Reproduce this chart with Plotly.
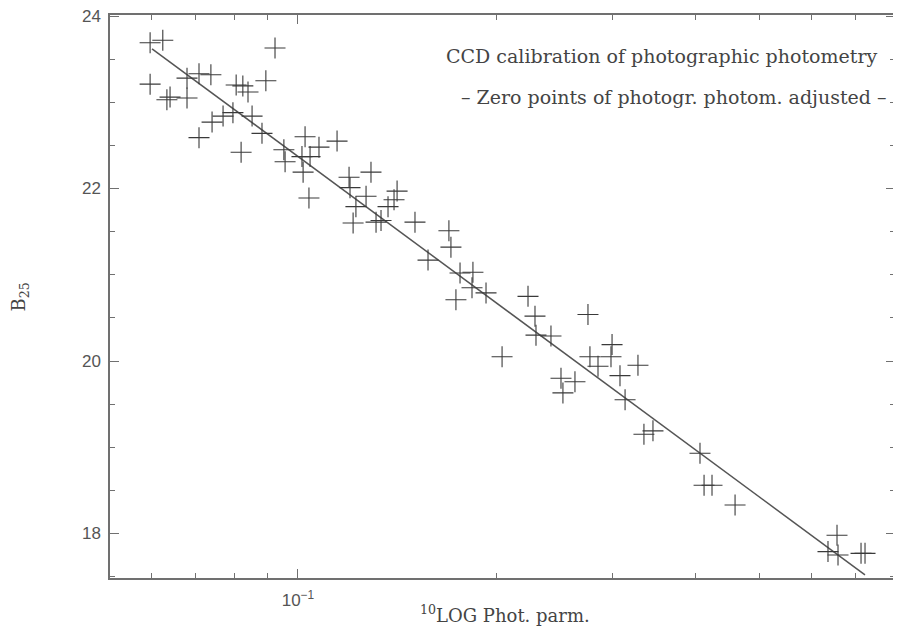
import plotly.graph_objects as go

# Data
phot_parm = [
    0.0597, 0.0624, 0.0923, 0.0597, 0.0633, 0.0640, 0.0679, 0.0679, 0.0708, 0.0738,
    0.0806, 0.0825, 0.0840, 0.0894, 0.0708, 0.0741, 0.0770, 0.0797, 0.0852, 0.0882,
    0.0820, 0.1025, 0.1076, 0.1146, 0.0952, 0.0956, 0.1014, 0.1043, 0.1018, 0.1039,
    0.1195, 0.1290, 0.1199, 0.1268, 0.1413, 0.1398, 0.1369, 0.1224, 0.1212, 0.1313,
    0.1336, 0.1504, 0.1574, 0.1693, 0.1705, 0.1760, 0.1841, 0.1835, 0.1927, 0.1735,
    0.2231, 0.2286, 0.2750, 0.2038, 0.2294, 0.2417, 0.2503, 0.2628, 0.2520, 0.2769,
    0.2848, 0.2991, 0.2980, 0.3075, 0.3274, 0.3130, 0.3343, 0.3450,
    0.4065, 0.4123, 0.4239, 0.4594, 0.6556, 0.6353, 0.6579, 0.7129, 0.7229,
]
b25 = [
    23.69, 23.72, 23.63, 23.21, 23.03, 23.06, 23.28, 23.05, 23.33, 23.32,
    23.20, 23.19, 23.12, 23.25, 22.59, 22.77, 22.84, 22.88, 22.84, 22.64,
    22.42, 22.60, 22.48, 22.55, 22.45, 22.31, 22.37, 22.37, 22.19, 21.89,
    22.13, 22.19, 22.01, 21.91, 21.97, 21.87, 21.79, 21.79, 21.60, 21.61,
    21.63, 21.61, 21.17, 21.51, 21.32, 21.02, 21.03, 20.85, 20.79, 20.71,
    20.75, 20.52, 20.54, 20.05, 20.30, 20.29, 19.80, 19.76, 19.63, 20.05,
    19.94, 20.19, 20.05, 19.83, 19.95, 19.55, 19.15, 19.19,
    18.93, 18.56, 18.56, 18.33, 17.98, 17.79, 17.75, 17.77, 17.77,
]
fit_x = [0.0601, 0.7228]
fit_y = [23.62, 17.52]

x_major_vals = [0.1]
x_major_text = ["10<sup>−1</sup>"]
x_minor_vals = [0.06, 0.07, 0.08, 0.09, 0.2, 0.3, 0.4, 0.5, 0.6, 0.7, 0.8]
y_major_vals = [18, 20, 22, 24]

title_line1 = "CCD calibration of photographic photometry"
title_line2 = "– Zero points of photogr. photom. adjusted –"
x_title = "<sup>10</sup>LOG Phot. parm."
y_title = "B<sub>25</sub>"

axis_col = "#707070"
text_col = "#555555"
serif_col = "#444444"

fig = go.Figure()
fig.add_trace(go.Scatter(
    x=fit_x, y=fit_y, mode="lines",
    line=dict(color="#555555", width=1.5), hoverinfo="skip", showlegend=False,
))
fig.add_trace(go.Scatter(
    x=phot_parm, y=b25, mode="markers",
    marker=dict(symbol="cross-thin", size=15, line=dict(color="#3a3a3a", width=1.1)),
    showlegend=False,
))

# the page body has an 8px default margin, so the figure is sized to fit the window
fig.update_layout(
    width=893, height=621,
    margin=dict(l=102, r=6, t=7, b=51, autoexpand=False),
    paper_bgcolor="white", plot_bgcolor="white",
    font=dict(family="Liberation Sans", color=text_col),
    xaxis=dict(
        type="log", range=[-1.2848, -0.0955], automargin=False,
        tickmode="array", tickvals=x_major_vals, ticktext=x_major_text,
        ticks="inside", ticklen=9, tickwidth=1.2, tickcolor=axis_col,
        showline=True, linecolor=axis_col, linewidth=1.5, mirror="allticks",
        showgrid=False, zeroline=False, ticklabeloverflow="allow",
        tickfont=dict(size=17, color=text_col, family="Liberation Sans"),
        ticklabelstandoff=6,
        minor=dict(tickmode="array", tickvals=x_minor_vals, ticks="inside",
                   ticklen=5, tickwidth=1.2, tickcolor=axis_col, showgrid=False),
    ),
    yaxis=dict(
        range=[17.484, 24.012], automargin=False,
        tickmode="array", tickvals=y_major_vals,
        ticks="inside", ticklen=9, tickwidth=1.2, tickcolor=axis_col,
        showline=True, linecolor=axis_col, linewidth=1.5, mirror="allticks",
        showgrid=False, zeroline=False, ticklabeloverflow="allow",
        tickfont=dict(size=17, color=text_col, family="Liberation Sans"),
        ticklabelstandoff=4,
        minor=dict(dtick=0.5, ticks="inside", ticklen=5, tickwidth=1.2,
                   tickcolor=axis_col, showgrid=False),
    ),
    annotations=[
        dict(text=title_line1, xref="paper", yref="paper", x=0.703, y=0.927,
             showarrow=False, xanchor="center", yanchor="middle",
             font=dict(family="DejaVu Serif", size=19, color=serif_col)),
        dict(text=title_line2, xref="paper", yref="paper", x=0.719, y=0.855,
             showarrow=False, xanchor="center", yanchor="middle",
             font=dict(family="DejaVu Serif", size=19, color=serif_col)),
        dict(text=x_title, xref="paper", yref="paper", x=0.503, y=-0.089,
             showarrow=False, xanchor="center", yanchor="bottom",
             font=dict(family="DejaVu Serif", size=18, color=serif_col)),
        dict(text=y_title, xref="paper", yref="paper", x=-0.114, y=0.499,
             showarrow=False, xanchor="center", yanchor="middle", textangle=-90,
             font=dict(family="DejaVu Serif", size=18, color=serif_col)),
    ],
)

fig.write_html("out.html")
